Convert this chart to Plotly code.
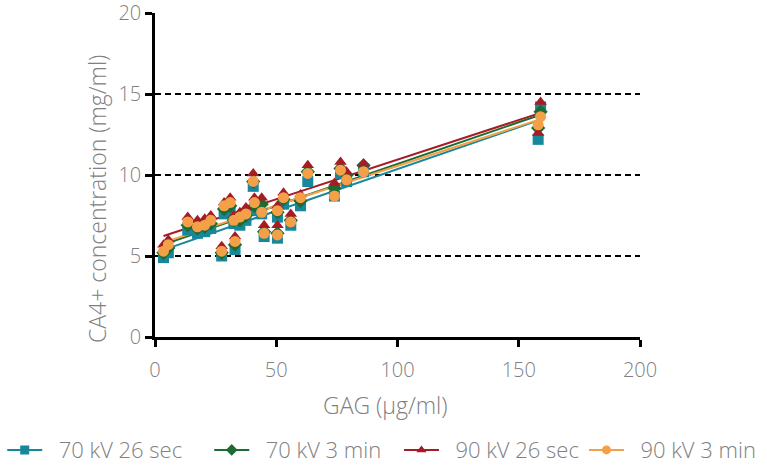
import numpy as np
import plotly.graph_objects as go

# GAG content of each sample (µg/ml)
gag = [3.5, 5.5, 13.5, 17.5, 20.5, 23.0, 27.5, 28.5, 31.0, 32.5, 33.0, 35.0, 37.5,
       40.5, 41.0, 44.0, 45.0, 50.5, 50.5, 53.0, 56.0, 60.0, 63.0, 74.0, 76.5, 79.0,
       86.0, 158.0, 159.0]

# CA4+ concentration (mg/ml) per acquisition protocol
kv70_26s = [4.9, 5.2, 6.6, 6.4, 6.5, 6.7, 5.0, 7.6, 7.8, 7.0, 5.4, 6.9, 7.2,
            9.3, 7.8, 7.6, 6.2, 7.4, 6.1, 8.2, 6.9, 8.1, 9.6, 8.7, 10.1, 9.6,
            10.2, 12.2, 14.2]
kv70_3m = [5.2, 5.5, 6.9, 6.7, 6.8, 7.0, 5.2, 7.9, 8.1, 7.2, 5.7, 7.2, 7.5,
           9.6, 8.1, 8.2, 6.5, 7.7, 6.4, 8.5, 7.2, 8.4, 10.2, 9.2, 10.4, 10.0,
           10.6, 12.9, 13.9]
kv90_26s = [5.7, 6.0, 7.4, 7.2, 7.3, 7.5, 5.6, 8.3, 8.6, 7.5, 6.2, 7.7, 8.0,
            10.1, 8.6, 8.6, 6.9, 8.1, 6.9, 8.9, 7.6, 8.8, 10.6, 9.5, 10.8, 10.2,
            10.7, 12.6, 14.5]
kv90_3m = [5.3, 5.7, 7.1, 6.8, 6.9, 7.2, 5.3, 8.1, 8.3, 7.2, 5.9, 7.4, 7.6,
           9.6, 8.3, 7.7, 6.4, 7.8, 6.3, 8.6, 7.1, 8.6, 10.1, 8.7, 10.3, 9.7,
           10.2, 13.1, 13.6]

# name, values, colour, marker symbol, legend group
series = [
    ("70 kV 26 sec", kv70_26s, "#17879c", "square", "legend"),
    ("70 kV 3 min", kv70_3m, "#1d6b30", "diamond", "legend"),
    ("90 kV 26 sec", kv90_26s, "#a51c24", "triangle-up", "legend2"),
    ("90 kV 3 min", kv90_3m, "#f4a048", "circle", "legend2"),
]

fig = go.Figure()

x = np.array(gag)
x_fit = np.array([x.min(), x.max()])

# linear regression line for each protocol
for name, vals, color, sym, lg in series:
    slope, icpt = np.polyfit(x, np.array(vals), 1)
    fig.add_trace(go.Scatter(
        x=x_fit, y=slope * x_fit + icpt, mode="lines",
        line=dict(color=color, width=2), showlegend=False, hoverinfo="skip"))

# measured points, drawn after the fit lines
for name, vals, color, sym, lg in series:
    fig.add_trace(go.Scatter(
        x=gag, y=vals, mode="markers", name=name,
        marker=dict(symbol=sym, color=color, size=11, line=dict(width=0)),
        showlegend=False))
    # legend entry with line and marker (non-breaking spaces pad the label)
    fig.add_trace(go.Scatter(
        x=[None], y=[None], mode="lines+markers", name="\u00a0\u00a0" + name, legend=lg,
        line=dict(color=color, width=2),
        marker=dict(symbol=sym, color=color, size=9)))

# dashed reference lines
for yv in [5, 10, 15]:
    fig.add_shape(type="line", xref="x", yref="y", x0=0, x1=200, y0=yv, y1=yv,
                  line=dict(color="black", width=2, dash="6px,4px"), layer="below")

grey = "#808080"
fnt = "Open Sans"
tickfont = dict(family=fnt, size=20, color=grey, weight=300)
titlefont = dict(family=fnt, size=23, color=grey, weight=300)
legfont = dict(family=fnt, size=22, color=grey, weight=300)

# axis titles
fig.add_annotation(text="GAG (µg/ml)", xref="paper", yref="paper",
                   x=0.476, y=-0.21, xanchor="center", yanchor="middle",
                   showarrow=False, font=titlefont)
fig.add_annotation(text="CA4+ concentration (mg/ml)", xref="paper", yref="paper",
                   x=-0.1196, y=0.426, xanchor="center", yanchor="middle",
                   textangle=-90, showarrow=False, font=titlefont)

fig.update_layout(
    width=767, height=465,
    margin=dict(l=155, r=127, t=13, b=128, autoexpand=False),
    plot_bgcolor="white", paper_bgcolor="white",
    font=dict(family=fnt, color=grey, size=18, weight=300),
    xaxis=dict(range=[0, 200], tickvals=[0, 50, 100, 150, 200],
               showgrid=False, zeroline=False, automargin=False,
               showline=True, linecolor="black", linewidth=2.5,
               ticks="outside", ticklen=7, tickwidth=2.5, tickcolor="black",
               ticklabelstandoff=6, ticklabeloverflow="allow", tickfont=tickfont),
    yaxis=dict(range=[0, 20], tickvals=[0, 5, 10, 15, 20],
               showgrid=False, zeroline=False, automargin=False,
               showline=True, linecolor="black", linewidth=2.5,
               ticks="outside", ticklen=7, tickwidth=2.5, tickcolor="black",
               ticklabeloverflow="allow", tickfont=tickfont),
    legend=dict(orientation="h", x=-0.315, xanchor="left", y=-0.349, yanchor="middle",
                entrywidth=157, itemwidth=35, font=legfont),
    legend2=dict(orientation="h", x=0.503, xanchor="left", y=-0.349, yanchor="middle",
                 entrywidth=135, itemwidth=35, font=legfont),
)

fig.write_html("out.html")
